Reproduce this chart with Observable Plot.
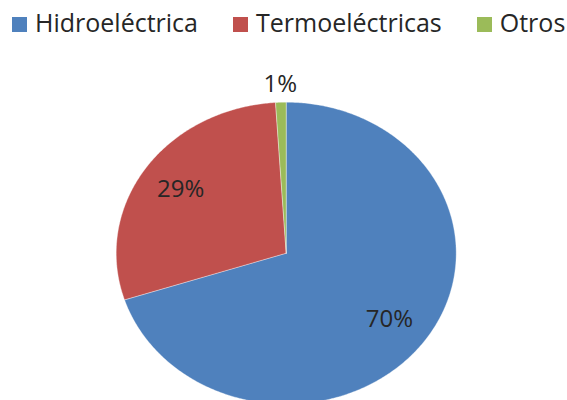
<!DOCTYPE html>
<html>
<head>
<meta charset="utf-8">
<script src="https://cdn.jsdelivr.net/npm/d3@7"></script>
<script src="https://cdn.jsdelivr.net/npm/@observablehq/plot@0.6"></script>
<style>
  html, body { margin: 0; padding: 0; background: #fff; }
  body { width: 567px; height: 400px; overflow: hidden; font-family: "Open Sans", sans-serif; }
  #legend { height: 50px; display: flex; align-items: flex-start; padding-left: 12px; box-sizing: border-box; }
  .item { display: flex; align-items: flex-start; margin-right: 35px; margin-top: 7px; height: 30px; }
  .sw { width: 15px; height: 15px; margin-right: 8px; margin-top: 10px; }
  .lab { font-size: 25px; color: #262626; line-height: 30px; white-space: nowrap; }
  svg { display: block; }
</style>
</head>
<body>
<div id="legend"></div>
<div id="chart"></div>
<script>
const categories = ["Hidroeléctrica", "Termoeléctricas", "Otros"];
const values = [70, 29, 1];
const labels = ["70%", "29%", "1%"];
const palette = ["#4F81BD", "#C0504D", "#9BBB59"];

const data = categories.map((c, i) => ({category: c, value: values[i], label: labels[i]}));
const total = d3.sum(values);
const arcs = d3.pie().sort(null).value(d => d.value)(data);

// polygon points for each slice (unit circle, y up)
const pts = [];
for (const a of arcs) {
  const n = Math.max(4, Math.ceil((a.endAngle - a.startAngle) / 0.01));
  pts.push({category: a.data.category, x: 0, y: 0});
  for (let k = 0; k <= n; k++) {
    const t = a.startAngle + (a.endAngle - a.startAngle) * k / n;
    pts.push({category: a.data.category, x: Math.sin(t), y: Math.cos(t)});
  }
  pts.push({category: a.data.category, x: 0, y: 0});
}

const labelPts = arcs.map(a => {
  const mid = (a.startAngle + a.endAngle) / 2;
  const r = a.data.value / total < 0.05 ? 1.12 : 0.75;
  return {label: a.data.label, x: Math.sin(mid) * r, y: Math.cos(mid) * r};
});

// legend
const legend = document.getElementById("legend");
categories.forEach((c, i) => {
  const it = document.createElement("div");
  it.className = "item";
  const sw = document.createElement("div");
  sw.className = "sw";
  sw.style.background = palette[i];
  const lb = document.createElement("span");
  lb.className = "lab";
  lb.textContent = c;
  it.appendChild(sw); it.appendChild(lb);
  legend.appendChild(it);
});

const cy = 202.7, rx = 170, ry = 151, cx = 285.7;
const chart = Plot.plot({
  width: 567,
  height: 350,
  x: {domain: [-1, 1], range: [cx - rx, cx + rx], axis: null},
  y: {domain: [-1, 1], range: [cy + ry, cy - ry], axis: null},
  color: {domain: categories, range: palette, legend: false},
  style: {fontFamily: "Open Sans, sans-serif", background: "transparent"},
  marks: [
    Plot.line(pts, {x: "x", y: "y", z: "category", fill: "category", stroke: "#ffffff", strokeWidth: 0.6, strokeOpacity: 0.6, curve: "linear"}),
    Plot.text(labelPts, {x: "x", y: "y", text: "label", fontSize: 24, fill: "#262626"})
  ]
});
document.getElementById("chart").appendChild(chart);
</script>
</body>
</html>
